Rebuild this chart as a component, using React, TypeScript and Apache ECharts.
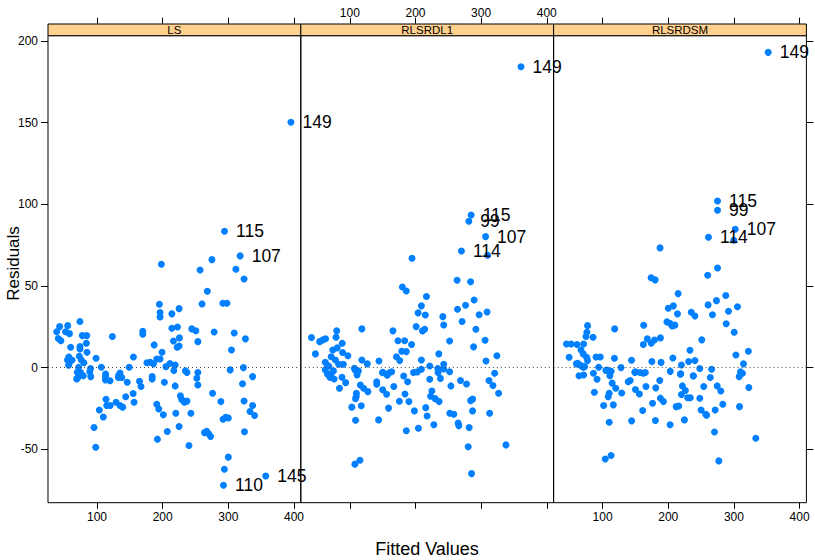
import { useEffect, useRef } from "react";
import * as echarts from "echarts";

const panelNames = ["LS", "RLSRDL1", "RLSRDSM"];
const xTicks = [100, 200, 300, 400];
const yTicks = [-50, 0, 50, 100, 150, 200];

const lsPoints: number[][] = [
  [198, 63.3], [275, 66.1], [257, 59.8], [311.5, 60.2], [324, 54.3], [268, 46.8], [260, 39.0],
  [291.7, 39.4], [297.8, 39.4], [195, 38.8], [196, 33.7], [196, 31.0], [214, 32.9], [225, 36.1],
  [222.5, 24.9], [214, 24.1], [244.4, 23.7], [250.5, 22.6], [253.6, 15.9], [278.4, 21.8], [309, 21.2],
  [326, 17.6], [304.8, 10.8], [302.8, -1.4], [323, 0], [337, -5.5], [225.5, 18.2], [222, 12.5],
  [225, 13.2], [216.4, 16.3], [199, 9.4], [187, 13.9], [191, 5.3], [196, 5.3], [169.7, 22.3],
  [169.7, 20.4], [176, 3], [181, 3.3], [186, 2.3], [211, 2.5], [219, 1.6], [217, -1.8], [205, 0.6],
  [149, 0.2], [155.4, 6.5], [123.4, 19.0], [98.5, 5.7], [106.6, 0.2], [113, -4], [113, -5.5],
  [90.4, -5.5], [132.5, -6], [137.7, -6], [74, 28.2], [77.6, 19.6], [84.3, 19.6], [83.7, 14.9],
  [84.7, 9.4], [74, 12.9], [74, 11.4], [59.9, 12.5], [38.5, 22.0], [43, 25.1], [41, 17.8], [45, 16.5],
  [55.3, 25.7], [52, 22], [58, 20.8], [57, 6.5], [55, 4.7], [57.5, 2.5], [62, 4.7], [73, 7], [76, 4.7],
  [80, 3], [72, 0.2], [70, -2.9], [73, -4.9], [90, -0.5], [89, -2.5], [70, -6.5], [56.7, 1.5],
  [75, -3], [79, -5], [69, -7], [119.8, -8], [112.7, -7.5], [135, -3.3], [133, -4.7], [146, -9.0],
  [164.7, -8.3], [167, -11.6], [155, -15.9], [143.6, -17.8], [113.7, -19.4], [156.4, -21.2],
  [129, -21.2], [114.8, -23.2], [120, -23.2], [135, -23.2], [139, -24.2], [103.5, -25.9],
  [109.6, -30.2], [95.4, -36.7], [98, -48.7], [184, -5.5], [184, -7], [202.6, -9], [219, -11.2],
  [234.7, -2.0], [237, -3], [253.6, -3], [252, -6.5], [253.6, -10.6], [276, -15.7], [227, -17.3],
  [229, -19.5], [233, -21.2], [237, -20.5], [191, -22.4], [194, -25.3], [201, -28.9], [220, -27.9],
  [243, -27.9], [225, -36.1], [207, -39.1], [192, -43.8], [240, -47.7], [263.7, -39.8], [267, -39],
  [270, -40.5], [273, -42.2], [288.7, -20.8], [292, -31.6], [296, -30.4], [300, -30.8], [300, -54.8],
  [294, -62.2], [321.6, -9.9], [324, -20.4], [324.6, -39.3], [333, -26.9], [337, -23.2], [340, -29.3],
];
const lsLabeled: [number, number, string][] = [
  [395.4, 150.2, "149"], [294.2, 83.5, "115"], [318, 68.4, "107"], [292.6, -72.0, "110"], [357, -66.3, "145"],
];

const rdl1Points: number[][] = [
  [309.9, 68.8], [194.7, 66.9], [263.4, 53.5], [284, 52.6], [180, 49.4], [186, 46.9], [216.7, 43.5],
  [289.4, 41.4], [209, 37.8], [204, 33.5], [215, 32.2], [276.3, 38.2], [264, 35.7], [309, 34.1],
  [297, 32.4], [241.6, 31.2], [243, 26.1], [201, 25.1], [210.6, 22.5], [214, 23.5], [271, 28.2],
  [292, 23.5], [306, 16.8], [288.5, 12.7], [252, 16.3], [165.7, 22.5], [173.3, 16.5], [183.5, 16.5],
  [194, 14.1], [171, 6.7], [176, 4.3], [179, 10.0], [186, 9.8], [235.5, 8.4], [209, 4.7], [307.4, 4.1],
  [324, 7.3], [118.3, 23.7], [41.5, 18.4], [54, 15.9], [59, 17], [63, 17.7], [80, 22.5], [79, 18.6],
  [74, 10.8], [80.8, 12.1], [88.4, 14.9], [89, 9.2], [97, 7.3], [47.6, 8.4], [71.6, 6.7], [78, 4.7],
  [83, 2.1], [62.6, 3.3], [66, 1.2], [68, 0.8], [90, 2.1], [118.3, 4.7], [126.5, 2.3], [144.3, 4.1],
  [107, -0.4], [113, -2], [150, -3.1], [160, -3.1], [163.7, -2.5], [197, -3], [203, -2.6], [209, -1],
  [221.7, 1], [234, -0.5], [243, 2], [252, -2.5], [320.6, -3.5], [62.6, -1.4], [66, -4], [70, -6],
  [75, -2], [76, -7], [71, -4], [88, -5.9], [93.6, -9.2], [84.3, -12.6], [103, -24.2], [109.8, -17.7],
  [108.7, -19], [117.4, -23.3], [108.7, -32.2], [110, -15.7], [116, -10.6], [121, -12.6], [127.5, -14.7],
  [108, -1.5], [111, -4.5], [141, -8.6], [141, -10.2], [150, -13.6], [156, -16.3], [159, -24.8],
  [143.8, -32], [150, -2.8], [157, -4.7], [167, -11.6], [175.5, -20.6], [184, -16.1], [188, -8.6],
  [190, -20.8], [182, -5.1], [186, -38.7], [198.4, -26.5], [204.5, -37.1], [215.6, -24.5], [217.7, -29.6],
  [221.7, -7.1], [225, -14.3], [223, -17.5], [230, -19], [236, -20.8], [228, -35], [234.4, -3],
  [238, -6.6], [243, -0.8], [254, -11.2], [252.3, -27.9], [258.4, -28.5], [265, -34], [266, -35.5],
  [268.6, -7.9], [277.8, -10], [284, -20.2], [287, -19.3], [287, -26.5], [281.8, -36.7], [280.3, -48.5],
  [285.4, -64.9], [312, -7.9], [318, -10.9], [326.6, -15.7], [313, -27.9], [337.8, -47.3], [107.7, -59.1],
  [115.4, -56.7],
];
const rdl1Labeled: [number, number, string][] = [
  [360.7, 184.2, "149"], [284.8, 93.4, "115"], [281.3, 89.6, "99"], [306.8, 80.2, "107"], [270, 71.4, "114"],
];

const rdsmPoints: number[][] = [
  [299.8, 78], [187.5, 73.3], [275, 61], [260, 56.5], [173.8, 55], [180, 53.7], [215, 45.3], [287.6, 44.1],
  [200, 36.3], [207.8, 37.8], [214, 32.9], [273.4, 41], [260.7, 38.4], [305.4, 37.3], [291.7, 34.5],
  [235, 33.9], [240.6, 31.6], [267.3, 32.4], [198, 28], [203, 27], [210, 26], [206, 25.5], [288.2, 26.9],
  [300.4, 21.7], [162.5, 25.9], [118.3, 23.7], [77, 25.7], [76, 21.7], [74.7, 19], [85.4, 18.6], [45, 14.5],
  [52, 14.5], [61, 14.1], [71, 14.5], [67, 10.8], [70.5, 8.4], [75.5, 6.3], [77, 4.3], [49, 6.3], [60, 2.3],
  [67, 1.2], [72.5, 0.6], [90, 6.5], [96.5, 6.5], [118, 5.7], [144, 4.5], [128, 0], [112.8, -2.2],
  [106.7, -1.5], [162, 14.1], [168, 17.6], [174, 14.9], [179, 16.9], [188, 18.2], [149, -2.9], [162, -3.4],
  [175, 3.7], [189, 3.2], [207, 5.9], [220, 1.6], [231, 3.7], [240.6, 4.3], [233, 10.6], [251, 17],
  [203, -2.3], [219, -3.8], [238, -5], [248, -0.5], [266, -1], [264, -6], [303, 7.7], [314.6, 2.3],
  [322, 10], [310, -2.5], [308, -5.5], [62, 2.7], [64, -5], [71, -4.5], [70.5, 0.2], [86, -3.4],
  [91.5, -7.1], [87.4, -15.1], [94, 0.2], [105, -1.7], [112, -2.3], [111, -5], [110, -15.7], [108.5, -17.8],
  [114.5, -9.5], [120, -12.6], [129, -15.5], [101.5, -23.2], [116.3, -22.8], [110, -33.4], [104, -55.9],
  [112.8, -53.8], [139, -8.6], [142, -7.9], [150, -13.4], [156, -16.1], [150, -2.6], [144.2, -32.6],
  [161, -26.3], [157, -3], [165, -3], [166, -11.6], [176, -21.8], [181, -12.4], [187, -7.9], [188, -18.7],
  [192.6, -20.8], [180.4, -32.4], [202.8, -35], [212, -23.9], [216, -23.5], [218.5, -4], [221.5, -11.2],
  [220, -16.5], [226, -14], [229.5, -18.4], [233.5, -18.4], [224.6, -32], [238.3, -5.1], [248, -18.8],
  [250, -25.9], [257, -28.5], [258.4, -29.2], [254, -11.6], [271.4, -25.9], [270.4, -39.4], [274.5, -11.2],
  [280, -14.3], [283, -22.4], [277, -57.1], [308.5, -23.9], [322.7, -12.2], [333.3, -43.2], [313, -3.4],
];
const rdsmLabeled: [number, number, string][] = [
  [352.2, 193.0, "149"], [275, 102, "115"], [275, 96.3, "99"], [302, 84.7, "107"], [261.2, 79.8, "114"],
];

const panelPoints = [lsPoints, rdl1Points, rdsmPoints];
const panelLabeled = [lsLabeled, rdl1Labeled, rdsmLabeled];

const FONT = "Liberation Sans, Arial, Helvetica, sans-serif";
const POINT_COLOR = "#0080ff";
const STRIP_COLOR = "#ffd08e";

export default function App() {
  const ref = useRef<HTMLDivElement>(null);
  useEffect(() => {
    document.body.style.margin = "0";
    if (!ref.current) return;
    const chart = echarts.init(ref.current, undefined, { renderer: "svg" });

    const lefts = [48, 300.8, 553.6];
    const panelW = 252.8;
    const top = 35.7;
    const height = 467;
    const xMin = 25.3, xMax = 410.4, yMin = -82.7, yMax = 203.2;

    const grids = lefts.map((l) => ({
      left: l, top, width: panelW, height,
      show: true, borderColor: "#000", borderWidth: 1, backgroundColor: "transparent",
    }));

    const xAxes: any[] = [];
    lefts.forEach((_, i) => {
      xAxes.push({
        type: "value", gridIndex: i, position: "bottom", min: xMin, max: xMax,
        axisLine: { show: false, onZero: false },
        splitLine: { show: false },
        axisTick: { show: true, length: 6, customValues: xTicks, lineStyle: { color: "#000" } },
        axisLabel: {
          show: i !== 1, customValues: xTicks, margin: 8,
          color: "#000", fontSize: 12, fontFamily: FONT,
        },
      });
    });
    lefts.forEach((_, i) => {
      xAxes.push({
        type: "value", gridIndex: i, position: "top", offset: 12, min: xMin, max: xMax,
        axisLine: { show: false, onZero: false },
        splitLine: { show: false },
        axisTick: { show: true, length: 6, customValues: xTicks, lineStyle: { color: "#000" } },
        axisLabel: {
          show: i === 1, customValues: xTicks, margin: 5,
          color: "#000", fontSize: 12, fontFamily: FONT,
        },
      });
    });

    const yAxes: any[] = [
      {
        type: "value", gridIndex: 0, position: "left", min: yMin, max: yMax,
        axisLine: { show: false, onZero: false }, splitLine: { show: false },
        axisTick: { show: true, length: 7, customValues: yTicks, lineStyle: { color: "#000" } },
        axisLabel: { show: true, customValues: yTicks, margin: 10, color: "#000", fontSize: 12, fontFamily: FONT },
      },
      {
        type: "value", gridIndex: 1, position: "left", min: yMin, max: yMax,
        axisLine: { show: false, onZero: false }, splitLine: { show: false }, axisTick: { show: false }, axisLabel: { show: false },
      },
      {
        type: "value", gridIndex: 2, position: "left", min: yMin, max: yMax,
        axisLine: { show: false, onZero: false }, splitLine: { show: false }, axisTick: { show: false }, axisLabel: { show: false },
      },
      {
        type: "value", gridIndex: 2, position: "right", min: yMin, max: yMax,
        axisLine: { show: false, onZero: false }, splitLine: { show: false },
        axisTick: { show: true, length: 7, customValues: yTicks, lineStyle: { color: "#000" } },
        axisLabel: { show: false },
      },
    ];

    const series: any[] = [];
    panelPoints.forEach((pts, i) => {
      series.push({
        type: "scatter", xAxisIndex: i, yAxisIndex: i, data: pts,
        symbol: "circle", symbolSize: 7,
        itemStyle: { color: POINT_COLOR, opacity: 1 },
        markLine: {
          silent: true, symbol: "none", label: { show: false },
          lineStyle: { type: [1, 3], color: "#444", width: 1 },
          data: [{ yAxis: 0 }],
        },
      });
      series.push({
        type: "scatter", xAxisIndex: i, yAxisIndex: i,
        data: panelLabeled[i].map((d) => ({ value: [d[0], d[1]], name: d[2] })),
        symbol: "circle", symbolSize: 7,
        itemStyle: { color: POINT_COLOR, opacity: 1 },
        label: {
          show: true, position: "right", distance: 8, formatter: "{b}",
          color: "#000", fontSize: 17.5, fontFamily: FONT,
        },
        labelLayout: { hideOverlap: false },
      });
    });

    const graphics: any[] = [];
    lefts.forEach((l, i) => {
      graphics.push({
        type: "rect", shape: { x: l, y: 24, width: panelW, height: top - 24 },
        style: { fill: STRIP_COLOR, stroke: "#000", lineWidth: 1 }, z: 10,
      });
      graphics.push({
        type: "text", x: l + panelW / 2, y: 30,
        style: {
          text: panelNames[i], fill: "#000", fontSize: 11.5, fontFamily: FONT,
          textAlign: "center", textVerticalAlign: "middle",
        },
        z: 11,
      });
    });
    graphics.push({
      type: "text", x: 13, y: 263.5, rotation: Math.PI / 2,
      style: {
        text: "Residuals", fill: "#000", fontSize: 17, fontFamily: FONT,
        textAlign: "center", textVerticalAlign: "middle",
      },
    });
    graphics.push({
      type: "text", x: 427, y: 549,
      style: {
        text: "Fitted Values", fill: "#000", fontSize: 18, fontFamily: FONT,
        textAlign: "center", textVerticalAlign: "middle",
      },
    });

    chart.setOption({
      animation: false,
      backgroundColor: "#fff",
      grid: grids,
      xAxis: xAxes,
      yAxis: yAxes,
      series,
      graphic: graphics,
    });
    return () => chart.dispose();
  }, []);
  return <div ref={ref} style={{ position: "fixed", left: 0, top: 0, width: 815, height: 560 }} />;
}
